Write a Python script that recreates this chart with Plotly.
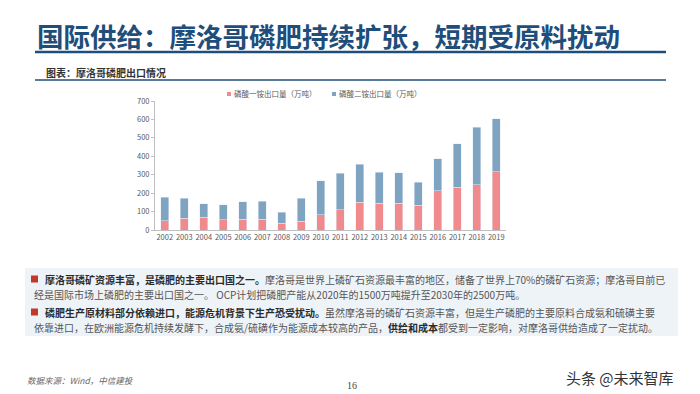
import plotly.graph_objects as go

years = [str(y) for y in range(2002, 2020)]
map_export = [51, 65, 69, 55, 58, 58, 36, 47, 82, 109, 151, 145, 145, 133, 213, 233, 245, 315]
total_export = [178, 171, 142, 136, 153, 156, 95, 173, 267, 309, 358, 313, 311, 258, 387, 467, 558, 604]
dap_export = [t - m for t, m in zip(total_export, map_export)]
series_names = ["磷酸一铵出口量（万吨）", "磷酸二铵出口量（万吨）"]
y_ticks = [0, 100, 200, 300, 400, 500, 600, 700]

OFF = 8  # page body margin
W, H = 700, 394
L, R, T, B = 155, 506, 101, 230  # plot area in page pixels


def px(x):
    return (x - L) / (R - L)


def py(y):
    return (B - y) / (B - T)


FONT = "Noto Sans CJK SC"
RED = "#F18A8D"
BLUE = "#7FA4C2"
DARK = "#1F4E7A"

fig = go.Figure()
fig.add_trace(go.Bar(x=years, y=map_export, name=series_names[0], marker_color=RED, showlegend=False))
fig.add_trace(go.Bar(x=years, y=dap_export, name=series_names[1], marker_color=BLUE, showlegend=False))

shapes = []
annotations = []

# Title
annotations.append(dict(x=px(35), y=py(35), xref="paper", yref="paper", xanchor="left", yanchor="middle",
                        text="<b>国际供给：摩洛哥磷肥持续扩张，短期受原料扰动</b>", showarrow=False,
                        font=dict(family=FONT, size=26.5, color=DARK)))
shapes.append(dict(type="line", xref="paper", yref="paper", x0=px(35), x1=px(666), y0=py(52), y1=py(52),
                   line=dict(color=DARK, width=2.5)))
annotations.append(dict(x=px(44), y=py(72), xref="paper", yref="paper", xanchor="left", yanchor="middle",
                        text="<b>图表：摩洛哥磷肥出口情况</b>", showarrow=False,
                        font=dict(family=FONT, size=10, color="#333333")))
shapes.append(dict(type="line", xref="paper", yref="paper", x0=px(35), x1=px(666), y0=py(80), y1=py(80),
                   line=dict(color=DARK, width=1.5)))

# Custom legend
for lx, name, col in [(229, series_names[0], RED), (334, series_names[1], BLUE)]:
    shapes.append(dict(type="rect", xref="paper", yref="paper", x0=px(lx - 2), x1=px(lx + 2),
                       y0=py(94 + 2), y1=py(94 - 2), fillcolor=col, line=dict(width=0)))
    annotations.append(dict(x=px(lx + 3), y=py(94), xref="paper", yref="paper", xanchor="left", yanchor="middle",
                            text=name, showarrow=False, font=dict(family=FONT, size=7.5, color="#595959")))

# Text box
shapes.append(dict(type="rect", xref="paper", yref="paper", x0=px(25), x1=px(678), y0=py(268), y1=py(336),
                   fillcolor="#EEF3F8", line=dict(width=0), layer="below"))
for yy in (279, 312):
    shapes.append(dict(type="rect", xref="paper", yref="paper", x0=px(31), x1=px(38), y0=py(yy - 3.5), y1=py(yy + 3.5),
                       fillcolor="#C0392B", line=dict(width=0)))

GREY = "#555555"
BOLD = "#2B2B2B"
lines = [
    (43, 279, "<span style='color:%s'><b>摩洛哥磷矿资源丰富，是磷肥的主要出口国之一。</b></span>摩洛哥是世界上磷矿石资源最丰富的地区，储备了世界上70%%的磷矿石资源；摩洛哥目前已" % BOLD),
    (32, 294, "经是国际市场上磷肥的主要出口国之一。 OCP计划把磷肥产能从2020年的1500万吨提升至2030年的2500万吨。"),
    (43, 312, "<span style='color:%s'><b>磷肥生产原材料部分依赖进口，能源危机背景下生产恐受扰动。</b></span>虽然摩洛哥的磷矿石资源丰富，但是生产磷肥的主要原料合成氨和硫磺主要" % BOLD),
    (32, 327, "依靠进口，在欧洲能源危机持续发酵下，合成氨/硫磺作为能源成本较高的产品，<span style='color:%s'><b>供给和成本</b></span>都受到一定影响，对摩洛哥供给造成了一定扰动。" % BOLD),
]
for x0, y0, t in lines:
    annotations.append(dict(x=px(x0), y=py(y0), xref="paper", yref="paper", xanchor="left", yanchor="middle",
                            text=t, showarrow=False, font=dict(family=FONT, size=10, color=GREY)))

# Footer
annotations.append(dict(x=px(25), y=py(380), xref="paper", yref="paper", xanchor="left", yanchor="middle",
                        text="<i>数据来源：Wind，中信建投</i>", showarrow=False,
                        font=dict(family=FONT, size=8.5, color="#666666")))
annotations.append(dict(x=px(352), y=py(385), xref="paper", yref="paper", xanchor="center", yanchor="middle",
                        text="16", showarrow=False, font=dict(family="Liberation Serif", size=10, color="#444444")))
annotations.append(dict(x=px(676), y=py(377), xref="paper", yref="paper", xanchor="right", yanchor="middle",
                        text="头条 @未来智库", showarrow=False, font=dict(family=FONT, size=15, color="#333333")))

fig.update_layout(
    width=W - OFF, height=H - OFF,
    barmode="stack", bargap=0.58,
    paper_bgcolor="white", plot_bgcolor="white",
    margin=dict(l=L - OFF, r=W - R, t=T - OFF, b=H - B, pad=0, autoexpand=False),
    font=dict(family=FONT, size=8, color="#595959"),
    showlegend=False,
    shapes=shapes, annotations=annotations,
    xaxis=dict(showline=True, linecolor="#BFBFBF", linewidth=1, ticks="", showgrid=False, tickangle=0,
               tickfont=dict(size=7.5, color="#595959")),
    yaxis=dict(range=[0, 700], tickvals=y_ticks, showline=True, linecolor="#BFBFBF", linewidth=1,
               ticks="outside", ticklen=3, tickcolor="#BFBFBF", showgrid=False, zeroline=False,
               tickfont=dict(size=7.5, color="#595959")),
)

fig.write_html("out.html")
